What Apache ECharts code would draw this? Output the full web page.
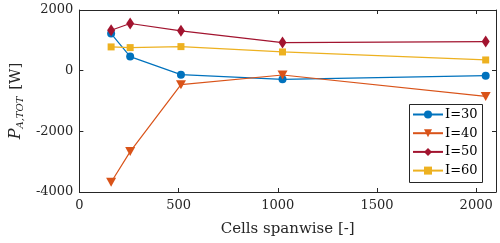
<!DOCTYPE html>
<html><head><meta charset="utf-8">
<script src="https://cdn.jsdelivr.net/npm/echarts@6/dist/echarts.min.js"></script>
<style>html,body{margin:0;padding:0;background:#fff}#c{width:500px;height:243px}</style>
</head><body><div id="c"></div>
<script>
const cells = [160, 256, 512, 1024, 2048];
const i30 = [1225, 463, -132, -287, -165];
const i40 = [-3680, -2667, -463, -143, -849];
const i50 = [1332, 1554, 1312, 926, 959];
const i60 = [783, 760, 793, 617, 353];
const names = ['I=30', 'I=40', 'I=50', 'I=60'];
const xTicks = [0, 500, 1000, 1500, 2000];
const yTicks = [-4000, -2000, 0, 2000];

const colors = ['#0072BD', '#D95319', '#A2142F', '#EDB120'];
const font = 'DejaVu Serif';
const pairs = v => cells.map((c, i) => [c, v[i]]);
const tri = 'path://M0,0 L10,0 L5,9 Z';

const chart = echarts.init(document.getElementById('c'), null, {renderer: 'canvas'});
const axisCol = '#262626';
const grid = {left: 72, right: 4, top: 10, bottom: 51};
const mkX = (pos, show) => ({
  type: 'value', position: pos, min: 0, max: 2100, interval: 500,
  axisLine: {show: true, onZero: false, lineStyle: {color: axisCol, width: 1}},
  axisTick: {show: true, inside: true, length: 4, lineStyle: {color: axisCol}},
  splitLine: {show: false},
  axisLabel: {show: show, color: axisCol, fontFamily: font, fontSize: 13, margin: 7,
    formatter: v => xTicks.includes(v) ? String(v) : ''}
});
const mkY = (pos, show) => ({
  type: 'value', position: pos, min: -4000, max: 2000, interval: 2000,
  axisLine: {show: true, onZero: false, lineStyle: {color: axisCol, width: 1}},
  axisTick: {show: true, inside: true, length: 4, lineStyle: {color: axisCol}},
  splitLine: {show: false},
  axisLabel: {show: show, color: axisCol, fontFamily: font, fontSize: 13, margin: 6,
    formatter: v => yTicks.includes(v) ? String(v) : ''}
});
const xa = mkX('bottom', true);
xa.name = 'Cells spanwise [-]';
xa.nameLocation = 'middle';
xa.nameGap = 30;
xa.nameTextStyle = {fontFamily: font, fontSize: 15, color: axisCol};
const ya = mkY('left', true);
ya.name = '{i|P}{s|A,TOT} [W]';
ya.nameLocation = 'middle';
ya.nameGap = 52;
ya.nameTextStyle = {fontFamily: font, fontSize: 15, color: axisCol,
  rich: {i: {fontFamily: font, fontStyle: 'italic', fontSize: 16, color: axisCol},
         s: {fontFamily: font, fontStyle: 'italic', fontSize: 10, color: axisCol, verticalAlign: 'bottom', padding: [8, 2, 0, 0]}}};

function ser(name, data, color, symbol, size) {
  return {name, type: 'line', data: pairs(data), xAxisIndex: 0, yAxisIndex: 0,
    symbol, symbolSize: size, showSymbol: true,
    lineStyle: {color, width: 1.2}, itemStyle: {color},
    emphasis: {disabled: true}, animation: false, z: 2};
}

chart.setOption({
  animation: false,
  grid,
  xAxis: [xa, mkX('top', false)],
  yAxis: [ya, mkY('right', false)],
  legend: {
    orient: 'vertical', left: 410, top: 107, itemWidth: 30, itemHeight: 10, itemGap: 3.7,
    padding: [0, 4, 0, 2], z: 20,
    textStyle: {fontFamily: font, fontSize: 13, lineHeight: 15, color: '#000', padding: [0, 0, 0, -3]},
    data: names
  },
  graphic: [{type: 'rect', left: 409, top: 104, shape: {width: 73, height: 78},
    style: {fill: '#fff', stroke: '#262626', lineWidth: 1}, z: 10}],
  series: [
    ser(names[0], i30, colors[0], 'circle', 8),
    ser(names[1], i40, colors[1], tri, [10, 9]),
    ser(names[2], i50, colors[2], 'diamond', [8, 12]),
    ser(names[3], i60, colors[3], 'rect', 7)
  ]
});
</script></body></html>
